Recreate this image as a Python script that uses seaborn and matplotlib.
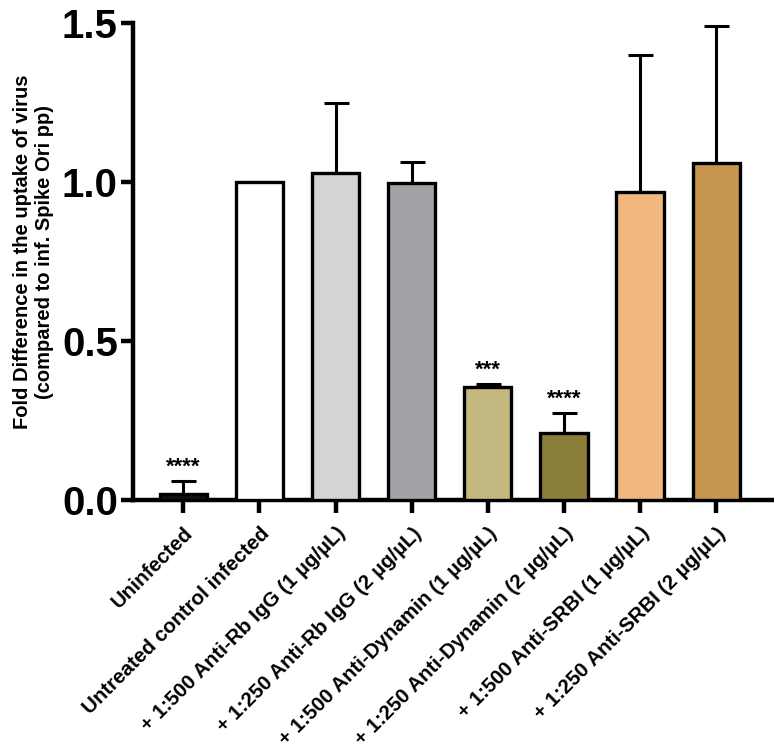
import matplotlib
matplotlib.use("Agg")
import matplotlib.pyplot as plt
import seaborn as sns
import pandas as pd
import numpy as np

categories = [
    "Uninfected",
    "Untreated control infected",
    "+ 1:500 Anti-Rb IgG (1 µg/µL)",
    "+ 1:250 Anti-Rb IgG (2 µg/µL)",
    "+ 1:500 Anti-Dynamin (1 µg/µL)",
    "+ 1:250 Anti-Dynamin (2 µg/µL)",
    "+ 1:500 Anti-SRBI (1 µg/µL)",
    "+ 1:250 Anti-SRBI (2 µg/µL)",
]
means = [0.02, 1.00, 1.03, 0.997, 0.355, 0.21, 0.97, 1.06]
errors = [0.04, 0.0, 0.22, 0.068, 0.01, 0.064, 0.43, 0.43]
significance = ["****", "", "", "", "***", "****", "", ""]
colors = ["#111111", "#ffffff", "#d4d4d4", "#a3a3a7", "#c2b880", "#8b7e3a", "#f0b77e", "#c6954f"]
yticks = [0.0, 0.5, 1.0, 1.5]

sns.set_style("ticks")
plt.rcParams['font.family'] = ['Liberation Sans', 'DejaVu Sans']
plt.rcParams['text.color'] = 'black'
plt.rcParams['axes.labelcolor'] = 'black'
plt.rcParams['xtick.color'] = 'black'
plt.rcParams['ytick.color'] = 'black'
plt.rcParams['axes.edgecolor'] = 'black'

df = pd.DataFrame({"cat": categories, "val": means})

fig = plt.figure(figsize=(7.74, 7.52), dpi=100)
ax = fig.add_axes([0.172, 0.335, 0.826, 0.634])

sns.barplot(data=df, x="cat", y="val", hue="cat", palette=colors, order=categories,
            hue_order=categories, errorbar=None, width=0.62, edgecolor="black",
            linewidth=2.4, legend=False, saturation=1, ax=ax, zorder=3)

x = np.arange(len(categories))
lower = np.zeros(len(errors))
ax.errorbar(x, means, yerr=[lower, errors], fmt="none", ecolor="black",
            elinewidth=2.2, capsize=9, capthick=2.2, zorder=2)

for xi, m, e, s in zip(x, means, errors, significance):
    if s:
        ax.text(xi, m + e + 0.01, s, ha="center", va="bottom", fontsize=16,
                fontweight="bold", color="black")

ax.set_ylim(0, 1.5)
ax.set_xlim(-0.66, 7.74)
ax.set_yticks(yticks)
ax.set_yticklabels([f"{v:.1f}" for v in yticks], fontsize=29, fontweight="bold")
ax.set_xticks(x)
ax.set_xticklabels(categories, rotation=45, ha="right", rotation_mode="anchor",
                   fontsize=14.8, fontweight="bold")
ax.set_xlabel("")
ax.set_ylabel("Fold Difference in the uptake of virus\n(compared to inf. Spike Ori pp)",
              fontsize=14.5, fontweight="bold")
ax.yaxis.set_label_coords(-0.124, 0.52)

for side in ["top", "right"]:
    ax.spines[side].set_visible(False)
for side in ["left", "bottom"]:
    ax.spines[side].set_linewidth(3.2)
ax.tick_params(axis="both", width=3.2, length=9, color="black")
ax.tick_params(axis="y", pad=2)
ax.tick_params(axis="x", pad=8)

fig.savefig("out.png", dpi=100)
